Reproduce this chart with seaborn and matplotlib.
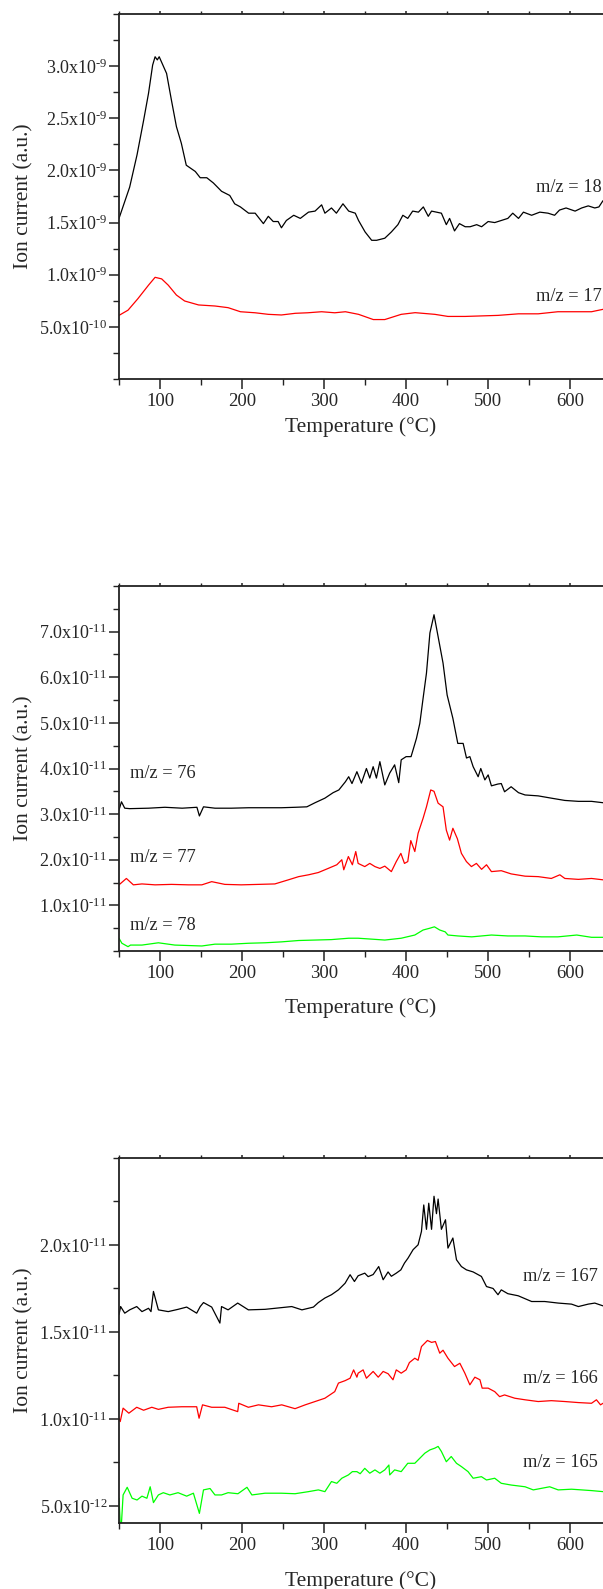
import numpy as np
import pandas as pd
import matplotlib
matplotlib.use("Agg")
import matplotlib.pyplot as plt
import seaborn as sns
from matplotlib.ticker import FixedLocator, FixedFormatter, MultipleLocator

# ---------------- data ----------------
# Panel 1 (units 1e-9)
t18 = [50, 63, 72, 80, 86, 91, 94, 96.7, 99, 108, 114, 120, 126, 132, 143, 149, 157, 165, 175, 185,
       191, 198, 208, 216, 226, 232, 238, 244, 248, 254, 263, 271, 281, 289, 297, 301, 309, 315, 323,
       330, 338, 342, 350, 358, 364, 374, 382, 390, 396, 402, 408, 415, 421, 427, 431, 443, 449, 453,
       459, 465, 472, 478, 486, 492, 500, 508, 516, 524, 530, 537, 543, 553, 563, 573, 581, 587, 595,
       606, 614, 622, 630, 635, 640]
v18 = [1.54, 1.84, 2.15, 2.48, 2.74, 3.01, 3.09, 3.06, 3.09, 2.93, 2.67, 2.42, 2.26, 2.05, 1.99, 1.93,
       1.93, 1.88, 1.80, 1.76, 1.68, 1.65, 1.59, 1.59, 1.49, 1.56, 1.51, 1.51, 1.45, 1.52, 1.57, 1.54,
       1.60, 1.61, 1.67, 1.59, 1.64, 1.59, 1.68, 1.61, 1.59, 1.52, 1.41, 1.33, 1.33, 1.35, 1.41, 1.48,
       1.57, 1.54, 1.61, 1.60, 1.65, 1.56, 1.61, 1.59, 1.48, 1.54, 1.42, 1.49, 1.46, 1.46, 1.48, 1.46,
       1.51, 1.50, 1.52, 1.54, 1.59, 1.54, 1.60, 1.57, 1.60, 1.59, 1.57, 1.62, 1.64, 1.61, 1.64, 1.66,
       1.64, 1.65, 1.71]
t17 = [50, 61, 73, 86, 94, 102, 110, 120, 130, 147, 167, 183, 198, 216, 232, 248, 265, 280, 297, 313,
       326, 342, 360, 374, 394, 411, 435, 451, 472, 492, 512, 537, 561, 585, 610, 626, 640]
v17 = [0.61, 0.66, 0.77, 0.90, 0.975, 0.96, 0.90, 0.805, 0.748, 0.71, 0.70, 0.684, 0.645, 0.635, 0.62,
       0.614, 0.63, 0.635, 0.645, 0.635, 0.645, 0.62, 0.57, 0.57, 0.62, 0.636, 0.62, 0.60, 0.60, 0.605,
       0.61, 0.625, 0.625, 0.645, 0.645, 0.645, 0.668]

# Panel 2 (units 1e-11)
t76 = [50, 53, 57, 63, 86, 106, 127, 145, 148, 153, 167, 187, 208, 228, 248, 265, 279, 289, 301, 311,
       318, 326, 330, 334, 340, 345.5, 351.6, 355.7, 359.8, 363.8, 368, 374, 380, 386, 391, 394, 400,
       406, 408.5, 412.6, 416.7, 420.7, 424.8, 429, 434, 439, 445, 450, 457, 463, 469.5, 473.6, 477.7,
       481.7, 487.8, 491, 496, 500, 504, 512, 516, 520, 528, 537, 545, 561, 577, 593.5, 610, 626, 640]
v76 = [3.09, 3.27, 3.13, 3.12, 3.13, 3.15, 3.13, 3.15, 2.96, 3.16, 3.13, 3.13, 3.14, 3.14, 3.14, 3.15,
       3.16, 3.25, 3.35, 3.47, 3.53, 3.71, 3.82, 3.67, 3.93, 3.68, 4.00, 3.79, 4.04, 3.79, 4.15, 3.64,
       3.90, 4.08, 3.69, 4.19, 4.26, 4.26, 4.41, 4.66, 4.99, 5.54, 6.09, 6.97, 7.37, 6.89, 6.31, 5.61,
       5.10, 4.55, 4.55, 4.23, 4.26, 4.04, 3.82, 4.00, 3.75, 3.86, 3.62, 3.66, 3.67, 3.49, 3.60, 3.47,
       3.42, 3.40, 3.35, 3.30, 3.28, 3.28, 3.25]
t77 = [50, 59, 67.5, 78, 94, 114, 134.5, 151, 163, 179, 199, 220, 240, 256.5, 269, 281, 293, 305,
       315.5, 321.6, 324, 329.6, 334.5, 338.6, 341.5, 349.6, 355.7, 362, 368, 374, 382, 388, 393.6,
       398, 402, 405.7, 410.6, 414.6, 420.7, 424.8, 430, 434, 439, 445, 449, 453, 457, 462.5, 467.4,
       473.5, 479.6, 485.7, 492, 498, 504, 516, 528, 545, 561, 577, 587.4, 593.5, 610, 626, 640]
v77 = [1.45, 1.59, 1.45, 1.47, 1.45, 1.46, 1.45, 1.45, 1.52, 1.46, 1.45, 1.46, 1.47, 1.56, 1.63, 1.67,
       1.72, 1.81, 1.89, 2.00, 1.78, 2.07, 1.89, 2.18, 1.92, 1.85, 1.92, 1.85, 1.81, 1.86, 1.74, 1.96,
       2.14, 1.92, 1.96, 2.42, 2.18, 2.58, 2.91, 3.16, 3.53, 3.50, 3.24, 3.16, 2.65, 2.43, 2.69, 2.46,
       2.14, 1.96, 1.85, 1.92, 1.79, 1.89, 1.74, 1.76, 1.69, 1.64, 1.63, 1.59, 1.67, 1.59, 1.57, 1.59,
       1.56]
t78 = [50, 53.5, 61, 64, 78, 98, 118, 151, 167, 187, 208, 228, 248, 269, 289, 309, 330, 341.5, 358,
       374, 394, 410.6, 420.7, 429, 434.5, 441, 447.6, 451, 463, 480, 504, 524, 545, 565, 585, 608,
       626, 640]
v78 = [0.28, 0.17, 0.095, 0.13, 0.13, 0.18, 0.13, 0.11, 0.15, 0.15, 0.17, 0.18, 0.20, 0.23, 0.24,
       0.25, 0.28, 0.28, 0.26, 0.24, 0.28, 0.35, 0.46, 0.50, 0.53, 0.46, 0.42, 0.35, 0.33, 0.31, 0.35,
       0.33, 0.33, 0.31, 0.31, 0.35, 0.30, 0.30]

# Panel 3 (units 1e-11)
t167 = [50, 52, 57, 63, 71.6, 78, 86, 89, 92, 98, 110, 122, 132.5, 144.7, 149, 153, 163, 173, 175, 183,
        194.7, 207.7, 228, 248.4, 260.6, 273, 287, 293, 301, 309, 317.5, 325.6, 331.7, 337, 341.5,
        349.6, 353.7, 359.8, 366.6, 372, 378, 382, 388, 393.6, 398, 402.4, 408.5, 414.6, 418.7, 421.5,
        424.8, 427.6, 431, 434, 437, 439, 443, 448, 451, 457, 461.4, 467.4, 473.5, 481.7, 491.8, 498,
        506, 512, 516, 524, 536.6, 553, 569, 585.4, 601.6, 610, 622, 630, 640]
v167 = [1.60, 1.646, 1.608, 1.627, 1.646, 1.617, 1.636, 1.617, 1.733, 1.627, 1.617, 1.63, 1.643, 1.608,
        1.646, 1.669, 1.643, 1.551, 1.646, 1.627, 1.666, 1.627, 1.63, 1.64, 1.646, 1.627, 1.643, 1.669,
        1.695, 1.714, 1.742, 1.78, 1.829, 1.79, 1.823, 1.838, 1.818, 1.83, 1.876, 1.80, 1.845, 1.82,
        1.838, 1.857, 1.896, 1.925, 1.973, 2.001, 2.078, 2.23, 2.09, 2.24, 2.09, 2.28, 2.18, 2.264,
        2.09, 2.145, 1.982, 2.04, 1.915, 1.876, 1.857, 1.845, 1.819, 1.761, 1.75, 1.714, 1.742, 1.72,
        1.708, 1.675, 1.675, 1.666, 1.66, 1.646, 1.66, 1.666, 1.65]
t166 = [50, 51.5, 55, 62, 71.6, 80, 90, 98, 110, 126.5, 144.7, 147.6, 151.8, 163, 179, 194.7, 196,
        207.7, 220, 236, 248.4, 264.6, 277, 289, 301, 313, 317.5, 325.6, 331.7, 336, 340, 341.5, 347.6,
        351.6, 359.8, 366, 372, 378, 384, 388, 394, 400, 404, 410.6, 414.6, 418.7, 426, 431, 435.7,
        441, 445, 451, 459, 465.5, 471.6, 477.7, 483.8, 490, 492.7, 500, 508, 514, 520, 532.5, 545,
        561, 577, 593.5, 610, 626, 632, 637, 640]
v166 = [1.004, 0.985, 1.062, 1.033, 1.067, 1.05, 1.067, 1.055, 1.067, 1.07, 1.07, 1.004, 1.081, 1.067,
        1.067, 1.042, 1.09, 1.067, 1.081, 1.07, 1.081, 1.059, 1.081, 1.10, 1.119, 1.157, 1.206, 1.22,
        1.234, 1.282, 1.24, 1.263, 1.282, 1.234, 1.273, 1.24, 1.273, 1.26, 1.225, 1.282, 1.263, 1.282,
        1.324, 1.349, 1.337, 1.416, 1.451, 1.44, 1.445, 1.378, 1.395, 1.349, 1.301, 1.32, 1.263, 1.196,
        1.24, 1.225, 1.177, 1.177, 1.157, 1.128, 1.138, 1.119, 1.11, 1.10, 1.105, 1.10, 1.094, 1.09,
        1.11, 1.081, 1.09]
t165 = [50, 51.5, 53, 55, 60, 66, 72, 78, 84, 88, 92, 98, 104, 112, 122, 132.5, 140.7, 148, 153, 161,
        167, 175, 183, 195, 206, 212, 228, 248, 264.6, 281, 293, 301, 309, 315.5, 321.6, 329.6, 334.5,
        340, 344, 349.6, 355.7, 362, 368, 374, 379, 380, 386, 394, 402, 410.6, 416.7, 422.8, 429, 435,
        439, 443, 449, 455, 461.4, 467.4, 475.5, 481.7, 491.8, 498, 508, 516, 528, 545, 555, 565, 575,
        585.4, 601.6, 614, 626, 640]
v165 = [0.544, 0.40, 0.40, 0.563, 0.607, 0.544, 0.534, 0.556, 0.544, 0.61, 0.519, 0.563, 0.576, 0.563,
        0.576, 0.556, 0.573, 0.457, 0.592, 0.60, 0.563, 0.563, 0.576, 0.57, 0.607, 0.563, 0.573, 0.573,
        0.57, 0.582, 0.592, 0.582, 0.64, 0.63, 0.659, 0.678, 0.697, 0.697, 0.685, 0.716, 0.688, 0.707,
        0.688, 0.707, 0.735, 0.678, 0.707, 0.697, 0.745, 0.745, 0.774, 0.803, 0.822, 0.832, 0.842,
        0.813, 0.754, 0.784, 0.745, 0.726, 0.697, 0.659, 0.668, 0.649, 0.659, 0.63, 0.62, 0.61, 0.592,
        0.601, 0.61, 0.592, 0.596, 0.592, 0.588, 0.582]

# ticks and labels
x_ticks = [100, 200, 300, 400, 500, 600]
x_labels = ["100", "200", "300", "400", "500", "600"]
y1_ticks = [0.5e-9, 1.0e-9, 1.5e-9, 2.0e-9, 2.5e-9, 3.0e-9]
y1_labels = [("5.0", "-10"), ("1.0", "-9"), ("1.5", "-9"), ("2.0", "-9"), ("2.5", "-9"), ("3.0", "-9")]
y2_ticks = [1e-11, 2e-11, 3e-11, 4e-11, 5e-11, 6e-11, 7e-11]
y2_labels = [("1.0", "-11"), ("2.0", "-11"), ("3.0", "-11"), ("4.0", "-11"), ("5.0", "-11"),
             ("6.0", "-11"), ("7.0", "-11")]
y3_ticks = [0.5e-11, 1.0e-11, 1.5e-11, 2.0e-11]
y3_labels = [("5.0", "-12"), ("1.0", "-11"), ("1.5", "-11"), ("2.0", "-11")]

x_label = "Temperature (°C)"
y_label = "Ion current (a.u.)"

# ---------------- style ----------------
sns.set_style("ticks")
plt.rcParams["font.family"] = ["Liberation Serif", "DejaVu Serif"]
plt.rcParams["mathtext.fontset"] = "custom"
plt.rcParams["mathtext.rm"] = "Liberation Serif"
plt.rcParams["mathtext.it"] = "Liberation Serif:italic"
plt.rcParams["mathtext.bf"] = "Liberation Serif:bold"

TICK_FS = 13.5
YTICK_FS = 13.0
LABEL_FS = 15.5
ANN_FS = 13.2

W, H = 603, 1589
fig = plt.figure(figsize=(W / 100, H / 100), dpi=100)

def axes_at(top_px, bot_px, left_px=119, right_px=603):
    return fig.add_axes([left_px / W, 1 - bot_px / H, (right_px - left_px) / W, (bot_px - top_px) / H])

def fmt(pairs):
    # hyphen (U+2010) instead of the long math minus
    return [m + "x10$^{\\mathregular{" + e.replace("-", "\u2010") + "}}$" for m, e in pairs]

def style(ax, yt, yl, ylim, yminor, xpad):
    ax.set_xlim(50, 640)
    ax.set_ylim(*ylim)
    ax.xaxis.set_major_locator(FixedLocator(x_ticks))
    ax.xaxis.set_major_formatter(FixedFormatter(x_labels))
    ax.xaxis.set_minor_locator(MultipleLocator(50))
    ax.yaxis.set_major_locator(FixedLocator(yt))
    ax.yaxis.set_major_formatter(FixedFormatter(fmt(yl)))
    ax.yaxis.set_minor_locator(MultipleLocator(yminor))
    ax.tick_params(axis="both", which="major", direction="out", length=7, width=1.1,
                   labelsize=TICK_FS, pad=3, color="#222222")
    ax.tick_params(axis="y", which="major", pad=1.5, labelsize=YTICK_FS)
    ax.tick_params(axis="both", which="minor", direction="out", length=4, width=1.0, color="#222222")
    ax.tick_params(axis="x", which="both", top=True, labeltop=False)
    for t in ax.xaxis.get_major_ticks() + ax.xaxis.get_minor_ticks():
        t.tick2line.set_markersize(2)
    ax.spines["right"].set_visible(False)
    for s in ("left", "bottom", "top"):
        ax.spines[s].set_linewidth(1.3)
        ax.spines[s].set_color("#222222")
    ax.set_xlabel(x_label, fontsize=LABEL_FS, labelpad=xpad)
    ax.set_ylabel(y_label, fontsize=LABEL_FS, labelpad=4)

def draw(ax, t, v, scale, color):
    df = pd.DataFrame({"T": t, "I": np.array(v) * scale})
    sns.lineplot(data=df, x="T", y="I", ax=ax, color=color, linewidth=0.9, sort=False,
                 estimator=None)

# Panel 1
ax1 = axes_at(14, 379)
draw(ax1, t18, v18, 1e-9, "black")
draw(ax1, t17, v17, 1e-9, "#ff0000")
style(ax1, y1_ticks, y1_labels, (0, 3.5e-9), 0.25e-9, 5.5)
ax1.text(639, 1.84e-9, "m/z = 18", ha="right", va="center", fontsize=ANN_FS)
ax1.text(639, 0.79e-9, "m/z = 17", ha="right", va="center", fontsize=ANN_FS)

# Panel 2
ax2 = axes_at(586, 951)
draw(ax2, t76, v76, 1e-11, "black")
draw(ax2, t77, v77, 1e-11, "#ff0000")
draw(ax2, t78, v78, 1e-11, "#00ff00")
style(ax2, y2_ticks, y2_labels, (0, 8e-11), 0.5e-11, 12)
ax2.text(63, 3.88e-11, "m/z = 76", ha="left", va="center", fontsize=ANN_FS)
ax2.text(63, 2.05e-11, "m/z = 77", ha="left", va="center", fontsize=ANN_FS)
ax2.text(63, 0.55e-11, "m/z = 78", ha="left", va="center", fontsize=ANN_FS)

# Panel 3
ax3 = axes_at(1158, 1523.3)
draw(ax3, t167, v167, 1e-11, "black")
draw(ax3, t166, v166, 1e-11, "#ff0000")
draw(ax3, t165, v165, 1e-11, "#00ff00")
style(ax3, y3_ticks, y3_labels, (0.4e-11, 2.5e-11), 0.25e-11, 12)
ax3.text(634, 1.819e-11, "m/z = 167", ha="right", va="center", fontsize=ANN_FS)
ax3.text(634, 1.234e-11, "m/z = 166", ha="right", va="center", fontsize=ANN_FS)
ax3.text(634, 0.749e-11, "m/z = 165", ha="right", va="center", fontsize=ANN_FS)

fig.savefig("out.png", dpi=100)
